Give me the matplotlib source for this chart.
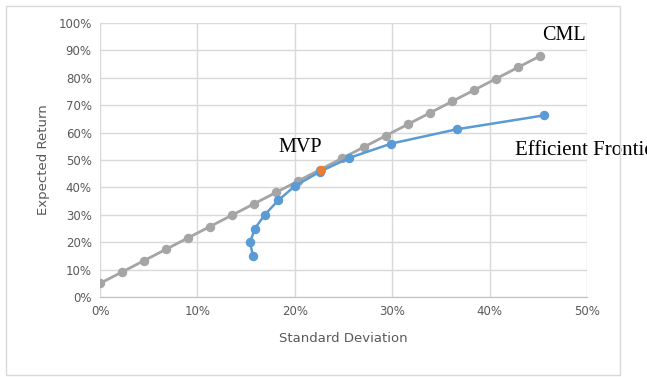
import matplotlib.pyplot as plt
from matplotlib.ticker import PercentFormatter
from matplotlib.patches import Rectangle

# capital market line (std dev %, expected return %)
cml_sd = [0, 2.26, 4.52, 6.78, 9.04, 11.3, 13.56, 15.82, 18.08, 20.34, 22.6,
          24.86, 27.12, 29.38, 31.64, 33.9, 36.16, 38.42, 40.68, 42.94, 45.2]
cml_ret = [5, 9.15, 13.3, 17.45, 21.6, 25.75, 29.9, 34.05, 38.2, 42.35, 46.5,
           50.65, 54.8, 58.95, 63.1, 67.25, 71.4, 75.55, 79.7, 83.85, 88]

# efficient frontier
ef_sd = [15.7, 15.4, 15.9, 16.9, 18.3, 20.0, 22.6, 25.6, 29.9, 36.6, 45.6]
ef_ret = [15, 20, 25, 30, 35.3, 40.5, 45.8, 50.8, 56, 61.2, 66.3]

mvp_sd = [22.7]
mvp_ret = [46.5]

grey = '#A5A5A5'
blue = '#5B9BD5'
orange = '#ED7D31'
txt = '#595959'

fig = plt.figure(figsize=(6.47, 3.77), dpi=100)
fig.patches.append(Rectangle((0.009, 0.005), 0.95, 0.978, transform=fig.transFigure,
                             fill=False, edgecolor='#D9D9D9', linewidth=1))
ax = fig.add_axes([0.1546, 0.212, 0.7527, 0.727])

ax.plot(cml_sd, cml_ret, color=grey, lw=2, marker='o', ms=5.8, zorder=3)
ax.plot(ef_sd, ef_ret, color=blue, lw=1.8, marker='o', ms=5.8, zorder=4)
ax.plot(mvp_sd, mvp_ret, color=orange, marker='o', ms=5.5, ls='none', zorder=5)

ax.set_xlim(0, 50)
ax.set_ylim(0, 100)
ax.set_xticks(range(0, 51, 10))
ax.set_yticks(range(0, 101, 10))
ax.xaxis.set_major_formatter(PercentFormatter(decimals=0))
ax.yaxis.set_major_formatter(PercentFormatter(decimals=0))
ax.grid(True, color='#D9D9D9', lw=1)
ax.set_axisbelow(True)
for s in ['top', 'right', 'left']:
    ax.spines[s].set_visible(False)
ax.spines['bottom'].set_color('#BFBFBF')
ax.tick_params(length=0, labelsize=8.5, labelcolor=txt, pad=6)

ax.set_xlabel('Standard Deviation', fontsize=9.5, color=txt, labelpad=10)
ax.set_ylabel('Expected Return', fontsize=9.5, color=txt, labelpad=6)

serif = 'Liberation Serif'
ax.text(45.4, 95.6, 'CML', family=serif, fontsize=14.5, va='center', ha='left')
ax.text(18.3, 54.5, 'MVP', family=serif, fontsize=14.5, va='center', ha='left')
ax.text(42.6, 53.3, 'Efficient Frontier', family=serif, fontsize=15,
        va='center', ha='left', clip_on=False)

fig.savefig('out.png', dpi=100)
